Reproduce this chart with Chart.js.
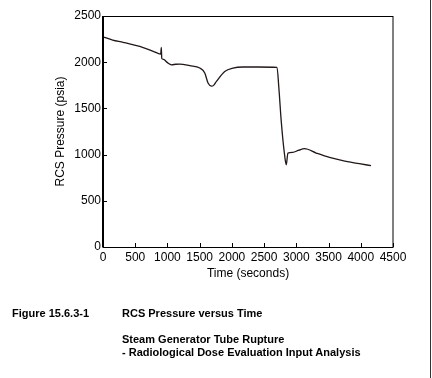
<!DOCTYPE html>
<html>
<head>
    <title>RCS Pressure versus Time</title>
    <script src="https://cdn.jsdelivr.net/npm/chart.js"></script>
    <style>
        body { margin: 0; background: #fff; font-family: 'Liberation Sans', Arial, sans-serif; }
        #wrap { position: absolute; left: 0; top: 0; width: 432px; height: 378px; }
        .cap { position: absolute; font-size: 11px; font-weight: bold; color: #000; white-space: nowrap; }
        #edge { position: absolute; left: 430px; top: 0; width: 1px; height: 378px; background: #333; }
    </style>
</head>
<body>
    <div id="wrap"><canvas id="myChart"></canvas></div>
    <div id="edge"></div>
    <div class="cap" style="left:12px; top:307px;">Figure 15.6.3-1</div>
    <div class="cap" style="left:122px; top:307px;">RCS Pressure versus Time</div>
    <div class="cap" style="left:122px; top:333px;">Steam Generator Tube Rupture</div>
    <div class="cap" style="left:122px; top:346px;">- Radiological Dose Evaluation Input Analysis</div>

    <script>
        // values
        const timeSec = [0, 150, 314, 624, 780, 895, 905, 912, 940, 1000, 1063, 1130, 1192, 1347, 1502,
            1579, 1630, 1683, 1720, 1760, 1889, 2017, 2172, 2400, 2700,
            2729, 2766, 2817, 2844, 2869, 2946, 3030, 3127, 3308, 3514, 3720, 3978, 4159];
        const pressurePsia = [2275, 2240, 2215, 2158, 2118, 2088, 2160, 2040, 2030, 1995, 1972, 1978, 1980, 1962, 1937,
            1883, 1774, 1740, 1752, 1792, 1900, 1937, 1948, 1948, 1945,
            1720, 1359, 999, 890, 1017, 1024, 1045, 1064, 1017, 969, 934, 902, 880];

        const xMin = 0, xMax = 4500, xStep = 500;
        const yMin = 0, yMax = 2500, yStep = 500;

        const font = { family: "'Liberation Sans', Arial, sans-serif", size: 12 };

        // box around the plot plus inward tick marks
        const framePlugin = {
            id: 'frame',
            afterDraw(chart) {
                const { ctx, chartArea: a, scales: { x, y } } = chart;
                ctx.save();
                ctx.strokeStyle = '#000';
                ctx.lineWidth = 1;
                ctx.strokeRect(a.left, a.top + 0.5, a.right - a.left, a.bottom - a.top);
                ctx.lineWidth = 2;
                ctx.beginPath();
                ctx.moveTo(a.left, a.top);
                ctx.lineTo(a.left, a.bottom);
                ctx.stroke();
                ctx.lineWidth = 1;
                ctx.beginPath();
                x.ticks.forEach(t => {
                    const px = Math.round(x.getPixelForValue(t.value)) + 0.5;
                    ctx.moveTo(px, a.bottom);
                    ctx.lineTo(px, a.bottom - 4);
                });
                y.ticks.forEach(t => {
                    const py = Math.round(y.getPixelForValue(t.value)) + 0.5;
                    ctx.moveTo(a.left, py);
                    ctx.lineTo(a.left + 4, py);
                });
                ctx.stroke();
                ctx.restore();
            }
        };

        const plain = v => String(v);

        const ctx = document.getElementById('myChart').getContext('2d');
        const chart = new Chart(ctx, {
            type: 'line',
            data: {
                datasets: [{
                    label: 'RCS Pressure',
                    data: timeSec.map((t, i) => ({ x: t, y: pressurePsia[i] })),
                    borderColor: '#221818',
                    borderWidth: 1.3,
                    pointRadius: 0,
                    cubicInterpolationMode: 'monotone',
                    fill: false
                }]
            },
            options: {
                animation: false,
                responsive: true,
                maintainAspectRatio: false,
                layout: { padding: { left: 0, top: 16, right: 39, bottom: 91 } },
                plugins: { legend: { display: false }, tooltip: { enabled: false } },
                scales: {
                    x: {
                        type: 'linear',
                        min: xMin, max: xMax,
                        grid: { display: false, drawTicks: false },
                        border: { display: false },
                        ticks: { stepSize: xStep, autoSkip: false, maxRotation: 0, padding: 3, color: '#000', font: font, callback: plain },
                        title: { display: true, text: 'Time (seconds)', color: '#000', font: font, padding: { top: 0, bottom: 6 } },
                        afterFit(s) { s.height = 40; }
                    },
                    y: {
                        min: yMin, max: yMax,
                        grid: { display: false, drawTicks: false },
                        border: { display: false },
                        ticks: { stepSize: yStep, padding: 2, color: '#000', font: font, callback: plain },
                        title: { display: true, text: 'RCS Pressure (psia)', color: '#000', font: font, padding: { top: 53, bottom: 0 } },
                        afterFit(s) { s.width = 103; }
                    }
                }
            },
            plugins: [framePlugin]
        });
    </script>
</body>
</html>
